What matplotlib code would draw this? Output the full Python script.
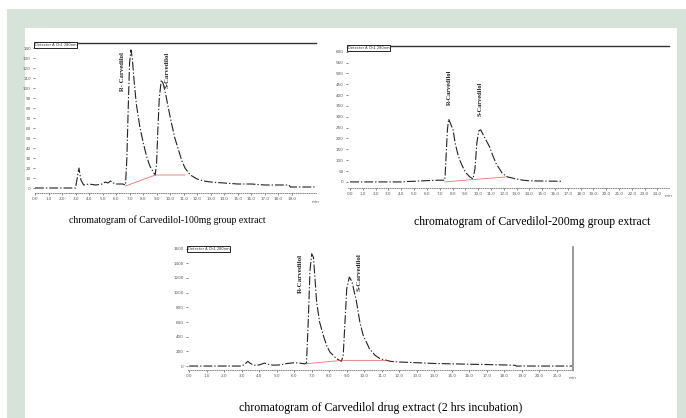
import matplotlib.pyplot as plt
from matplotlib.patches import Rectangle

# ---- data (time in min, signal) ----
t_100 = [0.0, 3.0, 3.1, 3.25, 3.4, 3.6, 4.0, 4.5, 5.0, 5.2, 5.4, 5.6, 5.8, 6.0, 6.5, 6.7,
         6.8, 6.9, 7.0, 7.1, 7.2, 7.35, 7.5, 7.75, 8.0, 8.25, 8.5, 8.75, 8.9, 9.0, 9.1, 9.2,
         9.35, 9.5, 9.7, 9.9, 10.1, 10.35, 10.6, 10.85, 11.1, 11.5, 12.0, 12.5, 13.0, 14.0,
         15.0, 16.0, 17.0, 18.0, 18.8, 18.9, 20.8]
y_100 = [0, 0, 8, 20, 8, 3, 4, 3, 4, 6, 5, 7, 5, 4, 4, 3,
         30, 80, 125, 138, 130, 105, 84, 62, 46, 32, 22, 16, 13, 25, 60, 90,
         108, 104, 92, 78, 65, 50, 39, 28, 20, 13, 9, 7, 6, 5,
         4, 4, 3, 3, 3, 1, 1]
base_t_100 = [6.7, 8.9, 11.1]
base_y_100 = [2, 13, 13]

t_200 = [0.0, 4.0, 4.5, 5.0, 6.0, 7.0, 7.4, 7.5, 7.6, 7.7, 7.8, 8.05, 8.2, 8.4, 8.6, 8.8,
         9.05, 9.35, 9.6, 9.75, 9.9, 10.05, 10.2, 10.5, 10.9, 11.15, 11.4, 11.9, 12.3, 12.8,
         13.5, 14.0, 15.0, 16.5]
y_200 = [0, 0, 2, 3, 6, 8, 8, 120, 240, 290, 275, 238, 180, 131, 95, 69,
         42, 23, 14, 60, 180, 235, 240, 205, 161, 120, 85, 38, 23, 16,
         8, 5, 4, 3]
base_t_200 = [7.4, 9.6, 12.2]
base_y_200 = [0, 11, 23]

t_drug = [0.0, 3.0, 3.2, 3.35, 3.5, 3.7, 4.0, 4.3, 4.5, 4.8, 5.2, 5.6, 6.0, 6.3, 6.6, 6.7,
          6.8, 6.9, 7.0, 7.1, 7.28, 7.45, 7.66, 7.85, 8.04, 8.42, 8.7, 8.8, 8.9, 9.0, 9.15,
          9.3, 9.56, 9.75, 9.94, 10.3, 10.6, 10.9, 11.5, 12.0, 13.0, 14.0, 15.0, 16.0, 17.0,
          18.0, 18.6, 18.7, 21.9]
y_drug = [0, 0, 30, 64, 35, 10, 15, 40, 25, 12, 15, 35, 45, 40, 30, 40,
          600, 1300, 1530, 1480, 873, 600, 418, 280, 190, 100, 64, 150, 600, 1050, 1213,
          1150, 873, 600, 418, 236, 150, 100, 64, 55, 45, 35, 30, 25, 20,
          15, 10, 0, 0]
base_t_drug = [6.7, 8.7, 11.3]
base_y_drug = [32, 77, 77]

ticks_100 = list(range(0, 20))
ticks_200 = list(range(0, 25))
ticks_drug = list(range(0, 22))
yticks_100 = list(range(0, 150, 10))
yticks_200 = list(range(0, 650, 50))
yticks_drug = list(range(0, 1800, 200))

titles = ["chromatogram of Carvedilol-100mg group extract",
          "chromatogram of Carvedilol-200mg group extract",
          "chromatogram of Carvedilol drug extract (2 hrs incubation)"]

W, H = 686, 418
fig = plt.figure(figsize=(W / 100, H / 100), dpi=100)
fig.patch.set_facecolor("white")
GREEN = "#d5e3d8"
fig.patches.append(Rectangle((7 / W, 0), 1, 1 - 9 / H, transform=fig.transFigure,
                             facecolor=GREEN, edgecolor="none", zorder=-2))
fig.patches.append(Rectangle((25 / W, 0), (677 - 25) / W, 1 - 28 / H, transform=fig.transFigure,
                             facecolor="white", edgecolor="none", zorder=-1))


def px_axes(left, top, right, bottom):
    return fig.add_axes([left / W, 1 - bottom / H, (right - left) / W, (bottom - top) / H])


def style_axes(ax, xticks, yticks, top_line, right_line):
    ax.set_facecolor("none")
    for s in ["left", "right", "top", "bottom"]:
        ax.spines[s].set_visible(False)
    if top_line:
        ax.spines["top"].set_visible(True)
        ax.spines["top"].set_color("#333333")
        ax.spines["top"].set_linewidth(1.0)
    if right_line:
        ax.spines["right"].set_visible(True)
        ax.spines["right"].set_color("#888888")
        ax.spines["right"].set_linewidth(1.2)
    ax.spines["bottom"].set_visible(True)
    ax.spines["bottom"].set_linestyle(":")
    ax.spines["bottom"].set_color("#777777")
    ax.spines["bottom"].set_linewidth(0.6)
    ax.set_xticks(xticks)
    ax.set_xticklabels([f"{v:.1f}" for v in xticks])
    ax.set_yticks(yticks)
    ax.tick_params(axis="both", labelsize=3, length=1.5, width=0.5, pad=1.5,
                   colors="#555555", labelcolor="#555555")
    ax.text(1.0, -0.045, "min", transform=ax.transAxes, fontsize=3, color="#555555",
            ha="center", va="top")
    ax.text(0.0, 1.0, "Detector A Ch1 280nm", transform=ax.transAxes, fontsize=2.6,
            ha="left", va="top", color="#333333",
            bbox=dict(boxstyle="square,pad=0.15", facecolor="white", edgecolor="black",
                      linewidth=0.6))


def trace(ax, t, y, bt, by):
    ax.plot(t, y, color="#222222", linewidth=0.8, linestyle=(0, (8, 1.8, 1.2, 1.8)))
    ax.plot(bt, by, color="#d9534f", linewidth=0.6, alpha=0.8)


serif = "Liberation Serif"

# panel 1: 100 mg
ax1 = px_axes(35, 43, 316, 193)
trace(ax1, t_100, y_100, base_t_100, base_y_100)
ax1.set_xlim(0, 20.8)
ax1.set_ylim(-5, 145)
style_axes(ax1, ticks_100, yticks_100, True, False)
ax1.text(6.44, 136, "R- Carvedilol", rotation=90, ha="center", va="top", fontsize=4.8,
         family=serif, fontweight="bold", color="#222222")
ax1.text(9.78, 136, "S-Carvedilol", rotation=90, ha="center", va="top", fontsize=4.8,
         family=serif, fontweight="bold", color="#222222")

# panel 2: 200 mg
ax2 = px_axes(348, 46, 669, 188)
trace(ax2, t_200, y_200, base_t_200, base_y_200)
ax2.set_xlim(-0.16, 24.9)
ax2.set_ylim(-28, 626)
style_axes(ax2, ticks_200, yticks_200, True, False)
ax2.text(7.72, 516, "R-Carvedilol", rotation=90, ha="center", va="top", fontsize=4.6,
         family=serif, fontweight="bold", color="#222222")
ax2.text(10.13, 460, "S-Carvedilol", rotation=90, ha="center", va="top", fontsize=4.6,
         family=serif, fontweight="bold", color="#222222")

# panel 3: drug extract
ax3 = px_axes(188, 247, 573, 370)
trace(ax3, t_drug, y_drug, base_t_drug, base_y_drug)
ax3.set_xlim(-0.07, 21.93)
ax3.set_ylim(-54, 1622)
style_axes(ax3, ticks_drug, yticks_drug, False, True)
ax3.text(6.33, 1535, "R-Carvedilol", rotation=90, ha="center", va="top", fontsize=5,
         family=serif, fontweight="bold", color="#222222")
ax3.text(9.7, 1535, "S-Carvedilol", rotation=90, ha="center", va="top", fontsize=5,
         family=serif, fontweight="bold", color="#222222")

fig.text(167 / W, 1 - 220 / H, titles[0], ha="center", va="center", fontsize=7, family=serif)
fig.text(532 / W, 1 - 222 / H, titles[1], ha="center", va="center", fontsize=8.5, family=serif)
fig.text(381 / W, 1 - 408 / H, titles[2], ha="center", va="center", fontsize=8.6, family=serif)

fig.savefig("out.png", dpi=100)
